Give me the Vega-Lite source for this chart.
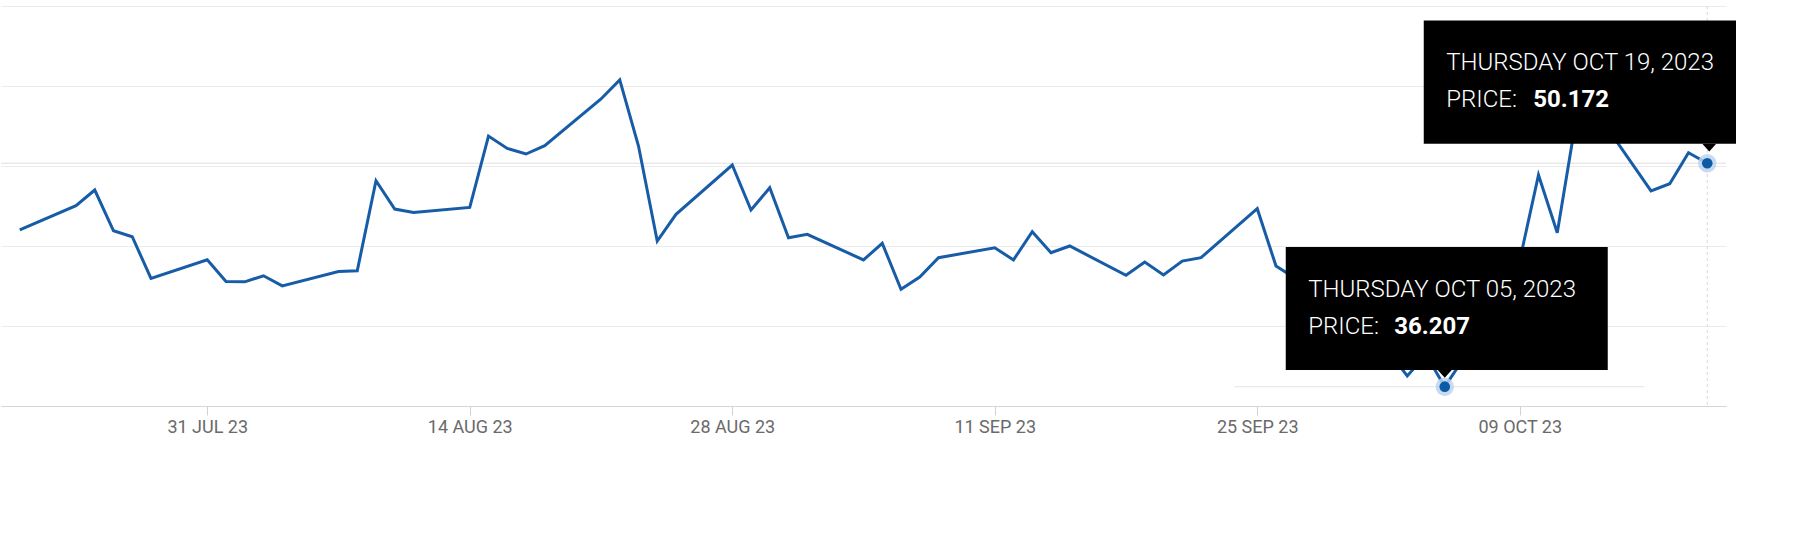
{
  "$schema": "https://vega.github.io/schema/vega-lite/v6.json",
  "width": 1725,
  "height": 400,
  "padding": {"left": 0, "top": 5, "right": 0, "bottom": 0},
  "background": "white",
  "config": {"view": {"stroke": null}, "font": "Roboto"},
  "datasets": {
    "prices": [
      {"date": "2023-07-21", "price": 46.01},
      {"date": "2023-07-24", "price": 47.52},
      {"date": "2023-07-25", "price": 48.50},
      {"date": "2023-07-26", "price": 45.95},
      {"date": "2023-07-27", "price": 45.58},
      {"date": "2023-07-28", "price": 42.97},
      {"date": "2023-07-31", "price": 44.14},
      {"date": "2023-08-01", "price": 42.78},
      {"date": "2023-08-02", "price": 42.76},
      {"date": "2023-08-03", "price": 43.14},
      {"date": "2023-08-04", "price": 42.51},
      {"date": "2023-08-07", "price": 43.40},
      {"date": "2023-08-08", "price": 43.45},
      {"date": "2023-08-09", "price": 49.08},
      {"date": "2023-08-10", "price": 47.31},
      {"date": "2023-08-11", "price": 47.10},
      {"date": "2023-08-14", "price": 47.41},
      {"date": "2023-08-15", "price": 51.87},
      {"date": "2023-08-16", "price": 51.10},
      {"date": "2023-08-17", "price": 50.75},
      {"date": "2023-08-18", "price": 51.27},
      {"date": "2023-08-21", "price": 54.19},
      {"date": "2023-08-22", "price": 55.38},
      {"date": "2023-08-23", "price": 51.25},
      {"date": "2023-08-24", "price": 45.31},
      {"date": "2023-08-25", "price": 46.98},
      {"date": "2023-08-28", "price": 50.06},
      {"date": "2023-08-29", "price": 47.25},
      {"date": "2023-08-30", "price": 48.64},
      {"date": "2023-08-31", "price": 45.52},
      {"date": "2023-09-01", "price": 45.73},
      {"date": "2023-09-04", "price": 44.13},
      {"date": "2023-09-05", "price": 45.17},
      {"date": "2023-09-06", "price": 42.29},
      {"date": "2023-09-07", "price": 43.06},
      {"date": "2023-09-08", "price": 44.27},
      {"date": "2023-09-11", "price": 44.89},
      {"date": "2023-09-12", "price": 44.13},
      {"date": "2023-09-13", "price": 45.89},
      {"date": "2023-09-14", "price": 44.58},
      {"date": "2023-09-15", "price": 45.00},
      {"date": "2023-09-18", "price": 43.17},
      {"date": "2023-09-19", "price": 44.00},
      {"date": "2023-09-20", "price": 43.19},
      {"date": "2023-09-21", "price": 44.06},
      {"date": "2023-09-22", "price": 44.27},
      {"date": "2023-09-25", "price": 47.33},
      {"date": "2023-09-26", "price": 43.75},
      {"date": "2023-09-27", "price": 43.00},
      {"date": "2023-09-28", "price": 41.50},
      {"date": "2023-09-29", "price": 40.00},
      {"date": "2023-10-02", "price": 38.40},
      {"date": "2023-10-03", "price": 36.88},
      {"date": "2023-10-04", "price": 38.20},
      {"date": "2023-10-05", "price": 36.207},
      {"date": "2023-10-06", "price": 37.95},
      {"date": "2023-10-09", "price": 44.10},
      {"date": "2023-10-10", "price": 49.44},
      {"date": "2023-10-11", "price": 45.83},
      {"date": "2023-10-12", "price": 52.90},
      {"date": "2023-10-13", "price": 53.50},
      {"date": "2023-10-16", "price": 48.44},
      {"date": "2023-10-17", "price": 48.89},
      {"date": "2023-10-18", "price": 50.83},
      {"date": "2023-10-19", "price": 50.172}
    ],
    "tips": [
      {"date": "2023-10-05", "price": 36.207, "dayLabel": "THURSDAY OCT 05, 2023", "priceLabel": "36.207"},
      {"date": "2023-10-19", "price": 50.172, "dayLabel": "THURSDAY OCT 19, 2023", "priceLabel": "50.172"}
    ]
  },
  "layer": [
    {
      "data": {"name": "tips"},
      "transform": [{"filter": "datum.priceLabel == '50.172'"}],
      "mark": {"type": "rule", "color": "#e0e0e0", "strokeWidth": 1},
      "encoding": {
        "y": {
          "field": "price", "type": "quantitative",
          "scale": {"domain": [35, 60], "nice": false, "zero": false},
          "axis": {
            "values": [35, 40, 45, 50, 55, 60],
            "grid": true, "gridColor": "#ebebeb", "gridWidth": 1,
            "labels": false, "ticks": false, "domain": false, "title": null,
            "minExtent": 0, "maxExtent": 0
          }
        }
      }
    },
    {
      "data": {"name": "tips"},
      "transform": [{"filter": "datum.priceLabel == '50.172'"}],
      "mark": {"type": "rule", "color": "#d8d8d8", "strokeWidth": 1, "strokeDash": [3, 3]},
      "encoding": {
        "x": {
          "field": "date", "type": "temporal",
          "scale": {
            "type": "utc",
            "domain": [
              {"year": 2023, "month": 7, "date": 20, "utc": true},
              {"year": 2023, "month": 10, "date": 20, "utc": true}
            ]
          },
          "axis": {
            "values": [
              {"year": 2023, "month": 7, "date": 31, "utc": true},
              {"year": 2023, "month": 8, "date": 14, "utc": true},
              {"year": 2023, "month": 8, "date": 28, "utc": true},
              {"year": 2023, "month": 9, "date": 11, "utc": true},
              {"year": 2023, "month": 9, "date": 25, "utc": true},
              {"year": 2023, "month": 10, "date": 9, "utc": true}
            ],
            "labelExpr": "upper(utcFormat(datum.value, '%d %b %y'))",
            "grid": false,
            "domainColor": "#d6d6d6",
            "tickColor": "#d0d0d0",
            "tickSize": 9,
            "labelPadding": 3.5,
            "labelFontSize": 18,
            "labelFont": "Roboto",
            "labelColor": "#6a6a6a",
            "labelFlush": false,
            "labelOverlap": false,
            "title": null
          }
        }
      }
    },
    {
      "data": {"name": "tips"},
      "transform": [{"filter": "datum.priceLabel == '36.207'"}],
      "mark": {"type": "rule", "color": "#e4e4e4", "strokeWidth": 1},
      "encoding": {
        "y": {"field": "price", "type": "quantitative"},
        "x": {"datum": {"year": 2023, "month": 9, "date": 23, "hours": 19, "utc": true}, "type": "temporal"},
        "x2": {"datum": {"year": 2023, "month": 10, "date": 15, "hours": 15, "utc": true}}
      }
    },
    {
      "data": {"name": "prices"},
      "mark": {"type": "line", "color": "#175ca6", "strokeWidth": 3},
      "encoding": {
        "x": {"field": "date", "type": "temporal"},
        "y": {"field": "price", "type": "quantitative"}
      }
    },
    {
      "data": {"name": "tips"},
      "transform": [{"filter": "datum.priceLabel == '36.207'"}],
      "mark": {"type": "rect", "color": "#000000", "xOffset": -159, "x2Offset": 163, "yOffset": -139.7, "y2Offset": -16.7},
      "encoding": {
        "x": {"field": "date", "type": "temporal"},
        "x2": {"field": "date"},
        "y": {"field": "price", "type": "quantitative"},
        "y2": {"field": "price"}
      }
    },
    {
      "data": {"name": "tips"},
      "transform": [{"filter": "datum.priceLabel == '50.172'"}],
      "mark": {"type": "rect", "color": "#000000", "xOffset": -283.5, "x2Offset": 28.75, "yOffset": -142.75, "y2Offset": -19.5},
      "encoding": {
        "x": {"field": "date", "type": "temporal"},
        "x2": {"field": "date"},
        "y": {"field": "price", "type": "quantitative"},
        "y2": {"field": "price"}
      }
    },
    {
      "data": {"name": "tips"},
      "mark": {"type": "point", "filled": true, "color": "#bcd4ee", "opacity": 0.85, "size": 340},
      "encoding": {
        "x": {"field": "date", "type": "temporal"},
        "y": {"field": "price", "type": "quantitative"}
      }
    },
    {
      "data": {"name": "tips"},
      "mark": {"type": "point", "filled": true, "color": "#0d5ba7", "opacity": 1, "size": 113},
      "encoding": {
        "x": {"field": "date", "type": "temporal"},
        "y": {"field": "price", "type": "quantitative"}
      }
    },
    {
      "data": {"name": "tips"},
      "transform": [{"filter": "datum.priceLabel == '36.207'"}],
      "mark": {"type": "point", "filled": true, "color": "#000000", "opacity": 1, "size": 196, "shape": "M-1,-0.55L1,-0.55L0,0.55Z", "yOffset": -12.85},
      "encoding": {
        "x": {"field": "date", "type": "temporal"},
        "y": {"field": "price", "type": "quantitative"}
      }
    },
    {
      "data": {"name": "tips"},
      "transform": [{"filter": "datum.priceLabel == '50.172'"}],
      "mark": {"type": "point", "filled": true, "color": "#000000", "opacity": 1, "size": 196, "shape": "M-1,-0.55L1,-0.55L0,0.55Z", "yOffset": -15.65, "xOffset": 2},
      "encoding": {
        "x": {"field": "date", "type": "temporal"},
        "y": {"field": "price", "type": "quantitative"}
      }
    },
    {
      "data": {"name": "tips"},
      "transform": [{"filter": "datum.priceLabel == '36.207'"}],
      "mark": {"type": "text", "color": "#ffffff", "font": "Roboto", "fontSize": 24, "fontWeight": 300, "align": "left", "baseline": "alphabetic", "dx": -136.5, "dy": -89.7},
      "encoding": {
        "x": {"field": "date", "type": "temporal"},
        "y": {"field": "price", "type": "quantitative"},
        "text": {"field": "dayLabel"}
      }
    },
    {
      "data": {"name": "tips"},
      "transform": [{"filter": "datum.priceLabel == '36.207'"}],
      "mark": {"type": "text", "color": "#ffffff", "font": "Roboto", "fontSize": 24, "fontWeight": 300, "letterSpacing": 1.2, "align": "left", "baseline": "alphabetic", "dx": -136.5, "dy": -52.4},
      "encoding": {
        "x": {"field": "date", "type": "temporal"},
        "y": {"field": "price", "type": "quantitative"},
        "text": {"value": "PRICE:"}
      }
    },
    {
      "data": {"name": "tips"},
      "transform": [{"filter": "datum.priceLabel == '36.207'"}],
      "mark": {"type": "text", "color": "#ffffff", "font": "Roboto", "fontSize": 24, "fontWeight": 700, "align": "left", "baseline": "alphabetic", "dx": -50.5, "dy": -52.4},
      "encoding": {
        "x": {"field": "date", "type": "temporal"},
        "y": {"field": "price", "type": "quantitative"},
        "text": {"field": "priceLabel"}
      }
    },
    {
      "data": {"name": "tips"},
      "transform": [{"filter": "datum.priceLabel == '50.172'"}],
      "mark": {"type": "text", "color": "#ffffff", "font": "Roboto", "fontSize": 24, "fontWeight": 300, "align": "left", "baseline": "alphabetic", "dx": -261, "dy": -92.75},
      "encoding": {
        "x": {"field": "date", "type": "temporal"},
        "y": {"field": "price", "type": "quantitative"},
        "text": {"field": "dayLabel"}
      }
    },
    {
      "data": {"name": "tips"},
      "transform": [{"filter": "datum.priceLabel == '50.172'"}],
      "mark": {"type": "text", "color": "#ffffff", "font": "Roboto", "fontSize": 24, "fontWeight": 300, "letterSpacing": 1.2, "align": "left", "baseline": "alphabetic", "dx": -261, "dy": -56},
      "encoding": {
        "x": {"field": "date", "type": "temporal"},
        "y": {"field": "price", "type": "quantitative"},
        "text": {"value": "PRICE:"}
      }
    },
    {
      "data": {"name": "tips"},
      "transform": [{"filter": "datum.priceLabel == '50.172'"}],
      "mark": {"type": "text", "color": "#ffffff", "font": "Roboto", "fontSize": 24, "fontWeight": 700, "align": "left", "baseline": "alphabetic", "dx": -174, "dy": -56},
      "encoding": {
        "x": {"field": "date", "type": "temporal"},
        "y": {"field": "price", "type": "quantitative"},
        "text": {"field": "priceLabel"}
      }
    }
  ]
}
